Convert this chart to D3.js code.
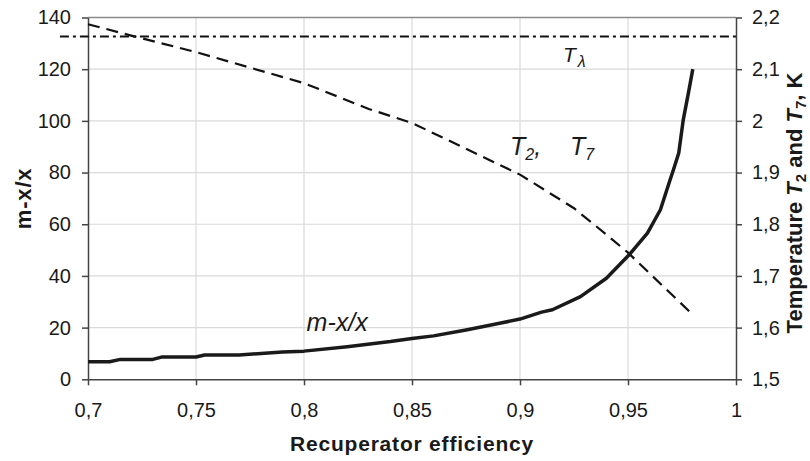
<!DOCTYPE html>
<html>
<head>
<meta charset="utf-8">
<script src="https://cdn.jsdelivr.net/npm/d3@7"></script>
<style>
  body { margin: 0; background: #fff; }
  svg { display: block; font-family: "Liberation Sans", Arial, sans-serif; }
</style>
</head>
<body>
<div id="chart"></div>
<script>
// x values are recuperator efficiency
const effX = [0.70, 0.71, 0.715, 0.73, 0.734, 0.75, 0.754, 0.77, 0.79, 0.80, 0.82, 0.84, 0.85, 0.86,
  0.875, 0.89, 0.90, 0.91, 0.915, 0.928, 0.94, 0.951, 0.959, 0.965, 0.9695, 0.971, 0.9735, 0.9756, 0.978, 0.98];
const mxx = [6.8, 6.8, 7.7, 7.7, 8.6, 8.6, 9.4, 9.4, 10.6, 10.9, 12.6, 14.6, 15.8, 16.8,
  19.1, 21.6, 23.3, 26.0, 26.9, 32.0, 39.1, 48.6, 56.6, 65.6, 77.2, 81.0, 87.6, 100.5, 110.9, 120];

// temperature T2, T7 (right axis)
const tempX = [0.70, 0.72, 0.75, 0.80, 0.83, 0.85, 0.875, 0.90, 0.925, 0.94, 0.95, 0.98];
const tempT = [2.187, 2.165, 2.133, 2.073, 2.023, 1.996, 1.946, 1.896, 1.831, 1.78, 1.745, 1.625];

// lambda point line
const lambdaX = [0.687, 1];
const lambdaT = 2.163;

const xTicks = [0.7, 0.75, 0.8, 0.85, 0.9, 0.95, 1];
const xTickLabels = ["0,7", "0,75", "0,8", "0,85", "0,9", "0,95", "1"];
const yTicks = [0, 20, 40, 60, 80, 100, 120, 140];
const yTickLabels = ["0", "20", "40", "60", "80", "100", "120", "140"];
const tTicks = [1.5, 1.6, 1.7, 1.8, 1.9, 2.0, 2.1, 2.2];
const tTickLabels = ["1,5", "1,6", "1,7", "1,8", "1,9", "2", "2,1", "2,2"];

let margin = { top: 17.5, left: 88, right: 74, bottom: 81.7 },
  width = 810 - margin.left - margin.right,
  height = 461 - margin.top - margin.bottom;

let xScale = d3.scaleLinear().domain([0.7, 1]).range([0, width]),
  yScale = d3.scaleLinear().domain([0, 140]).range([height, 0]),
  tScale = d3.scaleLinear().domain([1.5, 2.2]).range([height, 0]);

let svg = d3.select("#chart")
  .append("svg")
    .attr("width", 810)
    .attr("height", 461);

let g = svg.append("g")
    .attr("transform", "translate(" + margin.left + "," + margin.top + ")");

// grid lines
g.selectAll(".hgrid")
  .data(yTicks.filter(d => d > 0 && d < 140))
  .enter().append("line")
    .attr("x1", 0).attr("x2", width)
    .attr("y1", d => yScale(d)).attr("y2", d => yScale(d))
    .attr("stroke", "#dadada").attr("stroke-width", 1.2);

g.selectAll(".vgrid")
  .data(xTicks.filter(d => d > 0.7 && d < 1))
  .enter().append("line")
    .attr("x1", d => xScale(d)).attr("x2", d => xScale(d))
    .attr("y1", 0).attr("y2", height)
    .attr("stroke", "#dadada").attr("stroke-width", 1.2);

// top border
g.append("line")
  .attr("x1", 0).attr("x2", width)
  .attr("y1", yScale(140)).attr("y2", yScale(140))
  .attr("stroke", "#8a8a8a").attr("stroke-width", 1.5);

function styleAxis(ax) {
  ax.select(".domain").attr("stroke", "#444").attr("stroke-width", 1.5);
  ax.selectAll(".tick line").attr("stroke", "#444").attr("stroke-width", 1.5);
  ax.selectAll("text")
    .attr("fill", "#1a1a1a")
    .style("font-size", "20px")
    .style("font-family", "'Liberation Sans', Arial, sans-serif");
}

// X axis
let xAxis = g.append("g")
  .attr("transform", "translate(0," + height + ")")
  .call(d3.axisBottom(xScale)
    .tickValues(xTicks)
    .tickSize(6)
    .tickSizeOuter(0)
    .tickPadding(17.5)
    .tickFormat((d, i) => xTickLabels[i]));
styleAxis(xAxis);

// left axis
let yAxis = g.append("g")
  .call(d3.axisLeft(yScale)
    .tickValues(yTicks)
    .tickSize(6)
    .tickSizeOuter(0)
    .tickPadding(11)
    .tickFormat((d, i) => yTickLabels[i]));
styleAxis(yAxis);

// right axis
let tAxis = g.append("g")
  .attr("transform", "translate(" + width + ",0)")
  .call(d3.axisRight(tScale)
    .tickValues(tTicks)
    .tickSize(6)
    .tickSizeOuter(0)
    .tickPadding(10)
    .tickFormat((d, i) => tTickLabels[i]));
styleAxis(tAxis);

// lambda line
g.append("path")
  .datum(lambdaX)
  .attr("d", d3.line().x(d => xScale(d)).y(() => tScale(lambdaT)))
  .attr("fill", "none")
  .attr("stroke", "#111")
  .attr("stroke-width", 2)
  .attr("stroke-dasharray", "9,4,3,4");

// T2, T7 dashed curve
g.append("path")
  .datum(tempX.map((x, i) => [x, tempT[i]]))
  .attr("d", d3.line().x(d => xScale(d[0])).y(d => tScale(d[1])))
  .attr("fill", "none")
  .attr("stroke", "#111")
  .attr("stroke-width", 2.2)
  .attr("stroke-dasharray", "12,7");

// m-x/x solid curve
g.append("path")
  .datum(effX.map((x, i) => [x, mxx[i]]))
  .attr("d", d3.line().x(d => xScale(d[0])).y(d => yScale(d[1])))
  .attr("fill", "none")
  .attr("stroke", "#1a1a1a")
  .attr("stroke-width", 3.5)
  .attr("stroke-linejoin", "round");

// curve labels
g.append("text")
  .attr("x", xScale(0.8012))
  .attr("y", yScale(18.8))
  .attr("fill", "#1a1a1a")
  .style("font-size", "25px")
  .style("font-style", "italic")
  .text("m-x/x");

let tLab = g.append("text")
  .attr("x", xScale(0.8954))
  .attr("y", tScale(1.934))
  .attr("fill", "#1a1a1a")
  .style("font-size", "25px")
  .style("font-style", "italic");
tLab.append("tspan").text("T");
tLab.append("tspan").attr("dy", 5).style("font-size", "16px").text("2");
tLab.append("tspan").attr("dy", -5).text(",");
tLab.append("tspan").attr("x", xScale(0.9231)).text("T");
tLab.append("tspan").attr("dy", 5).style("font-size", "16px").text("7");

let lLab = g.append("text")
  .attr("x", xScale(0.9199))
  .attr("y", tScale(2.1145))
  .attr("fill", "#1a1a1a")
  .style("font-size", "21px")
  .style("font-style", "italic");
lLab.append("tspan").text("T");
lLab.append("tspan").attr("dx", 2).attr("dy", 5).style("font-size", "16px").text("λ");

// axis titles
svg.append("text")
  .attr("text-anchor", "middle")
  .attr("x", margin.left + width / 2)
  .attr("y", 451)
  .attr("fill", "#1a1a1a")
  .style("font-size", "21px")
  .style("font-weight", "bold")
  .style("letter-spacing", "0.8px")
  .text("Recuperator efficiency");

svg.append("text")
  .attr("text-anchor", "middle")
  .attr("transform", "translate(31," + (margin.top + height / 2) + ") rotate(-90)")
  .attr("fill", "#1a1a1a")
  .style("font-size", "22px")
  .style("font-weight", "bold")
  .style("letter-spacing", "0.8px")
  .text("m-x/x");

let rTitle = svg.append("text")
  .attr("text-anchor", "middle")
  .attr("transform", "translate(802,203) rotate(-90)")
  .attr("fill", "#1a1a1a")
  .style("font-size", "22px")
  .style("font-weight", "bold");
rTitle.append("tspan").text("Temperature ");
rTitle.append("tspan").style("font-style", "italic").text("T");
rTitle.append("tspan").attr("dy", 4).style("font-size", "15px").text("2");
rTitle.append("tspan").attr("dy", -4).text(" and ");
rTitle.append("tspan").style("font-style", "italic").text("T");
rTitle.append("tspan").attr("dy", 4).style("font-size", "15px").text("7");
rTitle.append("tspan").attr("dy", -4).text(", K");
</script>
</body>
</html>
